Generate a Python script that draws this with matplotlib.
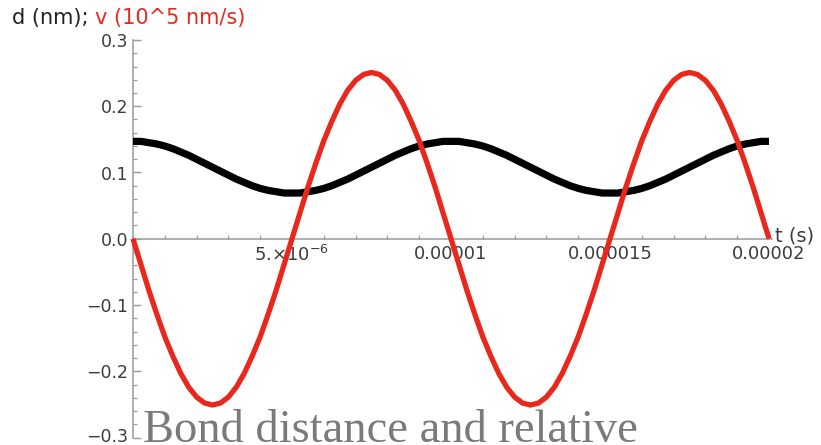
import matplotlib
matplotlib.use("Agg")
import matplotlib.pyplot as plt
import matplotlib.transforms as mtransforms
from matplotlib.ticker import MultipleLocator, FixedLocator

# time samples in microseconds
t_us = [0.0, 0.25, 0.5, 0.75, 1.0, 1.25, 1.5, 1.75, 2.0, 2.25, 2.5, 2.75, 3.0, 3.25, 3.5, 3.75,
        4.0, 4.25, 4.5, 4.75, 5.0, 5.25, 5.5, 5.75, 6.0, 6.25, 6.5, 6.75, 7.0, 7.25, 7.5, 7.75,
        8.0, 8.25, 8.5, 8.75, 9.0, 9.25, 9.5, 9.75, 10.0, 10.25, 10.5, 10.75, 11.0, 11.25, 11.5, 11.75,
        12.0, 12.25, 12.5, 12.75, 13.0, 13.25, 13.5, 13.75, 14.0, 14.25, 14.5, 14.75, 15.0, 15.25, 15.5, 15.75,
        16.0, 16.25, 16.5, 16.75, 17.0, 17.25, 17.5, 17.75, 18.0, 18.25, 18.5, 18.75, 19.0, 19.25, 19.5, 19.75,
        20.0]

# bond distance d (nm)
d_nm = [0.147, 0.147, 0.145, 0.143, 0.140, 0.136, 0.131, 0.126, 0.120, 0.114,
        0.108, 0.102, 0.096, 0.090, 0.085, 0.080, 0.076, 0.073, 0.071, 0.069,
        0.069, 0.069, 0.071, 0.073, 0.076, 0.080, 0.085, 0.090, 0.096, 0.102,
        0.108, 0.114, 0.120, 0.126, 0.131, 0.136, 0.140, 0.143, 0.145, 0.147,
        0.147, 0.147, 0.145, 0.143, 0.140, 0.136, 0.131, 0.126, 0.120, 0.114,
        0.108, 0.102, 0.096, 0.090, 0.085, 0.080, 0.076, 0.073, 0.071, 0.069,
        0.069, 0.069, 0.071, 0.073, 0.076, 0.080, 0.085, 0.090, 0.096, 0.102,
        0.108, 0.114, 0.120, 0.126, 0.131, 0.136, 0.140, 0.143, 0.145, 0.147,
        0.147]

# relative velocity v (10^5 nm/s)
v_rel = [0.000, -0.039, -0.078, -0.114, -0.148, -0.177, -0.203, -0.224, -0.239, -0.248,
         -0.251, -0.248, -0.239, -0.224, -0.203, -0.177, -0.148, -0.114, -0.078, -0.039,
         0.000, 0.039, 0.078, 0.114, 0.148, 0.177, 0.203, 0.224, 0.239, 0.248,
         0.251, 0.248, 0.239, 0.224, 0.203, 0.177, 0.148, 0.114, 0.078, 0.039,
         0.000, -0.039, -0.078, -0.114, -0.148, -0.177, -0.203, -0.224, -0.239, -0.248,
         -0.251, -0.248, -0.239, -0.224, -0.203, -0.177, -0.148, -0.114, -0.078, -0.039,
         0.000, 0.039, 0.078, 0.114, 0.148, 0.177, 0.203, 0.224, 0.239, 0.248,
         0.251, 0.248, 0.239, 0.224, 0.203, 0.177, 0.148, 0.114, 0.078, 0.039,
         0.000]

x_ticks = [5e-6, 1e-5, 1.5e-5, 2e-5]
x_tick_labels = [r"5.$\times$10$^{-6}$", "0.00001", "0.000015", "0.00002"]
y_ticks = [-0.3, -0.2, -0.1, 0.0, 0.1, 0.2, 0.3]
y_tick_labels = ["\u22120.3", "\u22120.2", "\u22120.1", "0.0", "0.1", "0.2", "0.3"]

W, H = 821, 445
fig = plt.figure(figsize=(W / 100, H / 100), dpi=100)
left_px, right_px, top_px, bot_px = 133, 772.2, 40, 437.5
ax = fig.add_axes([left_px / W, 1 - bot_px / H, (right_px - left_px) / W, (bot_px - top_px) / H])

t_s = [v * 1e-6 for v in t_us]
ax.plot(t_s, d_nm, color="black", lw=5.2, solid_capstyle="butt", zorder=3, clip_on=False)
ax.plot(t_s, v_rel, color="#e8281c", lw=3.8, solid_capstyle="butt", zorder=4, clip_on=False)

ax.set_xlim(0, 2.01e-5)
ax.set_ylim(-0.3, 0.3)

axis_col = "#9a9a9a"
for s in ["top", "right"]:
    ax.spines[s].set_visible(False)
ax.spines["bottom"].set_position(("data", 0))
ax.spines["left"].set_position(("data", 0))
for s in ["bottom", "left"]:
    ax.spines[s].set_color(axis_col)
    ax.spines[s].set_linewidth(1.1)

ax.xaxis.set_major_locator(FixedLocator(x_ticks))
ax.set_xticklabels(x_tick_labels)
ax.xaxis.set_minor_locator(MultipleLocator(1e-6))
ax.yaxis.set_major_locator(FixedLocator(y_ticks))
ax.set_yticklabels(y_tick_labels)
ax.yaxis.set_minor_locator(MultipleLocator(0.02))

lab_col = "#3c3c3c"
ax.tick_params(axis="both", which="major", direction="in", length=5.5, width=1.0, color=axis_col,
               labelcolor=lab_col)
ax.tick_params(axis="x", which="major", labelsize=13, pad=4.5)
ax.tick_params(axis="y", which="major", labelsize=12.5, pad=3.5)
ax.tick_params(axis="both", which="minor", direction="in", length=3, width=0.9, color=axis_col)

# nudge the lowest y tick label up so it stays inside the picture
bottom_label = ax.get_yticklabels()[0]
bottom_label.set_transform(bottom_label.get_transform() +
                           mtransforms.ScaledTranslation(0, 3 / 100, fig.dpi_scale_trans))

ax.text(2.02e-5, 0.004, "t (s)", fontsize=14, color=lab_col, ha="left", va="center")

t1 = fig.text(12 / W, 1 - 18 / H, "d (nm); ", fontsize=15, color="#222222", ha="left", va="center")
ax.annotate("v (10^5 nm/s)", xy=(1, 0.5), xycoords=t1, fontsize=15, color="#e8281c",
            ha="left", va="center", annotation_clip=False)

fig.text(143 / W, 3 / H, "Bond distance and relative", fontsize=33.5, color="#7a7a7a",
         family="Liberation Serif", ha="left", va="baseline")

fig.savefig("out.png", dpi=100)
